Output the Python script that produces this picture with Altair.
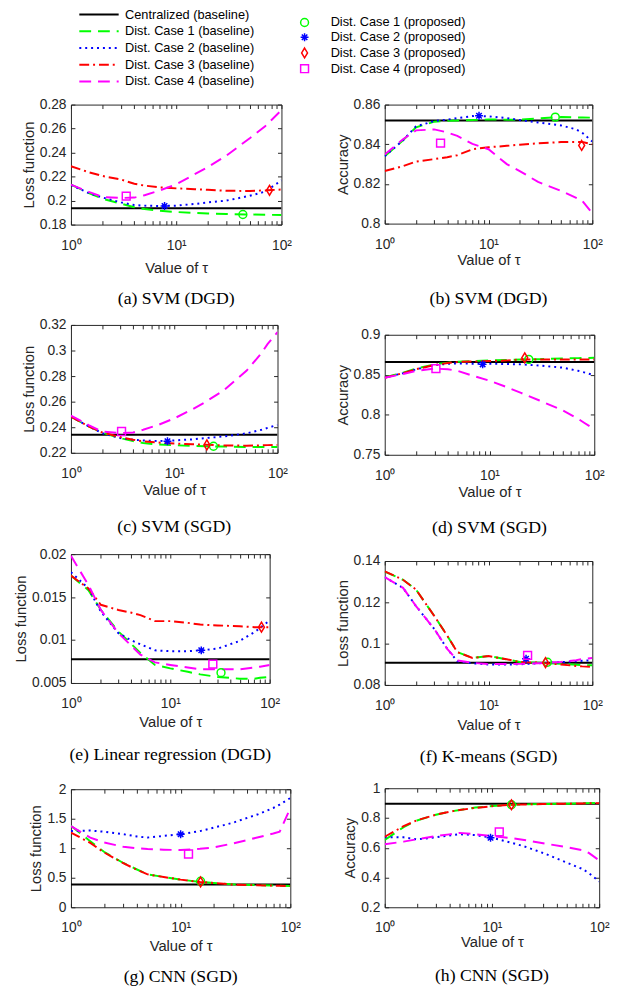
import altair as alt
import pandas as pd

# ---------------- data ----------------
X = [1, 1.5, 2, 3, 4, 5, 7, 10, 15, 20, 30, 50, 70, 80, 100]
SERIES = ["Centralized (baseline)", "Dist. Case 1 (baseline)", "Dist. Case 2 (baseline)",
          "Dist. Case 3 (baseline)", "Dist. Case 4 (baseline)"]
PROPOSED = ["Dist. Case 1 (proposed)", "Dist. Case 2 (proposed)",
            "Dist. Case 3 (proposed)", "Dist. Case 4 (proposed)"]
XTICKS = [1, 2, 3, 4, 5, 6, 7, 8, 9, 10, 20, 30, 40, 50, 60, 70, 80, 90, 100]

# (a) SVM (DGD) loss
A_CENT = 0.1936
A_C1 = [0.2133, 0.206, 0.2015, 0.1975, 0.1945, 0.193, 0.1915, 0.1905, 0.1898, 0.1893, 0.1888, 0.1884, 0.1882, 0.1881, 0.188]
A_C2 = [0.213, 0.206, 0.2025, 0.1985, 0.1963, 0.1958, 0.1955, 0.1958, 0.1972, 0.1985, 0.2, 0.204, 0.2075, 0.211, 0.2168]
A_C3 = [0.2286, 0.2235, 0.2205, 0.2175, 0.214, 0.2125, 0.211, 0.2102, 0.2095, 0.209, 0.2082, 0.208, 0.2085, 0.2088, 0.2092]
A_C4 = [0.2133, 0.207, 0.203, 0.2022, 0.2025, 0.2045, 0.2085, 0.2135, 0.222, 0.228, 0.2375, 0.252, 0.262, 0.267, 0.2754]
A_MX = [43, 7.75, 77, 3.35]
A_MY = [0.1884, 0.1955, 0.2086, 0.2037]

# (b) SVM (DGD) accuracy
B_CENT = 0.852
B_C1 = [0.834, 0.842, 0.8485, 0.8514, 0.8518, 0.852, 0.8522, 0.8525, 0.8524, 0.8524, 0.853, 0.8537, 0.8535, 0.8535, 0.8534]
B_C2 = [0.834, 0.842, 0.849, 0.8517, 0.8524, 0.8532, 0.8542, 0.8541, 0.8532, 0.8522, 0.851, 0.8495, 0.8475, 0.8458, 0.8414]
B_C3 = [0.8265, 0.829, 0.8313, 0.8325, 0.8335, 0.8345, 0.8375, 0.8385, 0.8392, 0.8398, 0.8405, 0.8411, 0.8412, 0.8411, 0.840]
B_C4 = [0.8348, 0.8425, 0.847, 0.8475, 0.846, 0.8442, 0.8402, 0.8375, 0.830, 0.8265, 0.821, 0.8165, 0.813, 0.8115, 0.8053]
B_MX = [44, 8.1, 79, 3.45]
B_MY = [0.8537, 0.8544, 0.8394, 0.8406]

# (c) SVM (SGD) loss
C_CENT = 0.2341
C_C1 = [0.2482, 0.2405, 0.2359, 0.2315, 0.2292, 0.2277, 0.2265, 0.2259, 0.2254, 0.2251, 0.2249, 0.2246, 0.2246, 0.2246, 0.2246]
C_C2 = [0.2482, 0.2405, 0.2354, 0.2315, 0.2302, 0.2297, 0.2292, 0.2297, 0.2305, 0.2315, 0.2328, 0.2352, 0.238, 0.2395, 0.2418]
C_C3 = [0.2482, 0.2405, 0.236, 0.2323, 0.2302, 0.229, 0.228, 0.2272, 0.2267, 0.2264, 0.2258, 0.2256, 0.2258, 0.226, 0.2262]
C_C4 = [0.249, 0.2415, 0.2367, 0.2354, 0.2359, 0.238, 0.2418, 0.2469, 0.254, 0.2597, 0.2687, 0.2841, 0.298, 0.305, 0.3144]
C_MX = [24, 8.6, 20.7, 3.09]
C_MY = [0.2251, 0.229, 0.2262, 0.2367]

# (d) SVM (SGD) accuracy
D_CENT = 0.8659
D_C1 = [0.8466, 0.8527, 0.8577, 0.863, 0.8652, 0.8663, 0.8672, 0.868, 0.8686, 0.869, 0.8695, 0.8704, 0.8708, 0.871, 0.8712]
D_C2 = [0.8466, 0.852, 0.8569, 0.8622, 0.8636, 0.8642, 0.8638, 0.8638, 0.8634, 0.863, 0.8615, 0.8589, 0.855, 0.853, 0.8495]
D_C3 = [0.8462, 0.8522, 0.857, 0.8622, 0.8648, 0.866, 0.8666, 0.8671, 0.868, 0.869, 0.8692, 0.8692, 0.8692, 0.8692, 0.8692]
D_C4 = [0.8462, 0.851, 0.8548, 0.8577, 0.8569, 0.8548, 0.8486, 0.8425, 0.834, 0.8273, 0.8178, 0.8055, 0.795, 0.79, 0.782]
D_MX = [23.7, 8.6, 21.7, 3.08]
D_MY = [0.8692, 0.863, 0.8712, 0.8577]

# (e) Linear regression (DGD) loss
E_CENT = 0.00776
E_C1 = [0.0175, 0.0158, 0.0135, 0.011, 0.0096, 0.0085, 0.0071, 0.0067, 0.0063, 0.006, 0.0057, 0.0055, 0.0055, 0.0056, 0.0057]
E_C2 = [0.0179, 0.016, 0.0133, 0.0108, 0.01, 0.0095, 0.0088, 0.0087, 0.0087, 0.0088, 0.009, 0.0099, 0.0109, 0.0114, 0.0123]
E_C3 = [0.0175, 0.016, 0.0141, 0.0135, 0.0132, 0.0129, 0.0122, 0.0122, 0.012, 0.0118, 0.0117, 0.0116, 0.0115, 0.0115, 0.0115]
E_C4 = [0.0198, 0.0164, 0.0135, 0.0108, 0.0094, 0.0083, 0.0074, 0.0071, 0.0068, 0.0066, 0.0066, 0.0066, 0.0068, 0.0069, 0.0071]
E_MX = [32.4, 20.5, 82.7, 26.8]
E_MY = [0.0062, 0.0088, 0.0115, 0.0072]

# (f) K-means (SGD) loss
F_CENT = 0.0907
F_C1 = [0.1349, 0.1309, 0.1262, 0.1134, 0.1039, 0.0959, 0.0931, 0.094, 0.0924, 0.0911, 0.0908, 0.0902, 0.0898, 0.0896, 0.0895]
F_C2 = [0.1322, 0.127, 0.1182, 0.1071, 0.0975, 0.0915, 0.0905, 0.0899, 0.0899, 0.09, 0.0905, 0.091, 0.0915, 0.0917, 0.092]
F_C3 = [0.135, 0.1309, 0.1262, 0.1134, 0.1039, 0.0959, 0.0931, 0.094, 0.0924, 0.0911, 0.0908, 0.0899, 0.0892, 0.089, 0.0888]
F_C4 = [0.1322, 0.127, 0.1182, 0.1071, 0.0975, 0.0919, 0.0907, 0.0901, 0.0901, 0.0902, 0.0905, 0.0911, 0.092, 0.0925, 0.093]
F_MX = [37, 23, 35.4, 23.8]
F_MY = [0.091, 0.0927, 0.0908, 0.0943]

# (g) CNN (SGD) loss
G_CENT = 0.384
G_C1 = [1.38, 1.12, 0.94, 0.75, 0.64, 0.557, 0.513, 0.468, 0.43, 0.412, 0.388, 0.375, 0.367, 0.365, 0.362]
G_C2 = [1.292, 1.3, 1.28, 1.237, 1.2, 1.181, 1.209, 1.237, 1.29, 1.348, 1.432, 1.571, 1.682, 1.74, 1.85]
G_C3 = [1.265, 1.09, 0.93, 0.746, 0.635, 0.557, 0.513, 0.468, 0.429, 0.41, 0.384, 0.373, 0.366, 0.363, 0.36]
G_C4 = [1.376, 1.181, 1.097, 1.025, 1.0, 0.986, 0.975, 0.969, 0.99, 1.014, 1.081, 1.181, 1.25, 1.28, 1.68]
G_MX = [15.2, 10, 15.2, 11.8]
G_MY = [0.44, 1.237, 0.429, 0.903]

# (h) CNN (SGD) accuracy
H_CENT = 0.8957
H_C1 = [0.652, 0.739, 0.783, 0.822, 0.842, 0.854, 0.87, 0.88, 0.889, 0.891, 0.894, 0.896, 0.899, 0.9, 0.902]
H_C2 = [0.67, 0.67, 0.656, 0.67, 0.683, 0.691, 0.685, 0.667, 0.635, 0.609, 0.565, 0.5, 0.457, 0.43, 0.374]
H_C3 = [0.674, 0.745, 0.785, 0.822, 0.842, 0.854, 0.868, 0.879, 0.889, 0.891, 0.894, 0.896, 0.898, 0.899, 0.9]
H_C4 = [0.624, 0.641, 0.657, 0.678, 0.69, 0.7, 0.691, 0.678, 0.665, 0.652, 0.63, 0.604, 0.583, 0.565, 0.515]
H_MX = [15.2, 9.7, 15.2, 11.7]
H_MY = [0.889, 0.667, 0.889, 0.707]

# ---------------- styles ----------------
LINE_COLORS = ["#000000", "#00ff00", "#0000ff", "#ff0000", "#ff00ff"]
DASHES = [[1, 0], [12, 7], [2, 4], [10, 4, 2, 4], [12, 7]]
MARK_COLORS = ["#00ff00", "#0000ff", "#ff0000", "#ff00ff"]
SHAPES = ["circle",
          "M0,-1L0,1M-1,0L1,0M-0.7,-0.7L0.7,0.7M-0.7,0.7L0.7,-0.7",
          "M0,-1.25L0.75,0L0,1.25L-0.75,0Z",
          "square"]
INK = "#262626"

line_legend = alt.Legend(
    title=None, orient="none", legendX=22, legendY=-98, direction="vertical",
    symbolType="M-4,0L4,0", symbolSize=100, symbolStrokeWidth=2, labelOffset=20,
    labelFont="Liberation Sans", labelFontSize=13, labelColor="black",
    rowPadding=3, padding=0, offset=0,
)
mark_legend = alt.Legend(
    title=None, orient="none", legendX=231, legendY=-90, direction="vertical",
    symbolSize=64, symbolStrokeWidth=1.5, labelOffset=20,
    labelFont="Liberation Sans", labelFontSize=13, labelColor="black",
    rowPadding=0, padding=0, offset=0,
)

XSCALE = alt.Scale(type="log", domain=[1, 100], nice=False)
XLABEL = ("datum.value == 1 ? '10\u2070' : datum.value == 10 ? '10\u00b9' : "
          "datum.value == 100 ? '10\u00b2' : ''")


def panel(cent, c1, c2, c3, c4, mx, my, ydom, yticks, ytitle, caption,
          w, h, xtp, cap_off, extra):
    rows = [{"tau": X[0], "val": cent, "series": SERIES[0]},
            {"tau": X[-1], "val": cent, "series": SERIES[0]}]
    for name, arr in zip(SERIES[1:], [c1, c2, c3, c4]):
        rows += [{"tau": t, "val": v, "series": name} for t, v in zip(X, arr)]
    ldf = pd.DataFrame(rows)
    pdf = pd.DataFrame({"tau": mx, "val": my, "case": PROPOSED})
    ysc = alt.Scale(domain=ydom, nice=False, zero=False)

    lines = alt.Chart(ldf).mark_line(strokeWidth=2, clip=True).encode(
        x=alt.X("tau:Q", scale=XSCALE, axis=alt.Axis(
            orient="bottom", values=XTICKS, labelExpr=XLABEL, title="Value of \u03c4",
            offset=-4, tickSize=4, labelPadding=14, titlePadding=xtp, labelFlush=False)),
        y=alt.Y("val:Q", scale=ysc, axis=alt.Axis(
            orient="left", values=yticks, format="~g", title=ytitle,
            offset=-4, tickSize=4, labelPadding=5, titlePadding=3)),
        color=alt.Color("series:N", scale=alt.Scale(domain=SERIES, range=LINE_COLORS),
                        legend=line_legend),
        strokeDash=alt.StrokeDash("series:N", scale=alt.Scale(domain=SERIES, range=DASHES),
                                  legend=line_legend),
    )
    pts = alt.Chart(pdf).mark_point(filled=False, strokeWidth=1.5, size=64, opacity=1).encode(
        x=alt.X("tau:Q", scale=XSCALE, axis=alt.Axis(
            orient="top", values=XTICKS, labels=False, title=None, offset=-4, tickSize=4)),
        y=alt.Y("val:Q", scale=ysc, axis=alt.Axis(
            orient="right", values=yticks, labels=False, title=None, offset=-4, tickSize=4)),
        stroke=alt.Stroke("case:N", scale=alt.Scale(domain=PROPOSED, range=MARK_COLORS),
                          legend=mark_legend),
        shape=alt.Shape("case:N", scale=alt.Scale(domain=PROPOSED, range=SHAPES),
                        legend=mark_legend),
    )
    if extra > 0:
        t = alt.TitleParams(caption, orient="bottom", anchor="middle", frame="group",
                            offset=cap_off, subtitle=" ", subtitleFontSize=extra,
                            subtitlePadding=0)
    else:
        t = alt.TitleParams(caption, orient="bottom", anchor="middle", frame="group",
                            offset=cap_off)
    return alt.layer(lines, pts).resolve_axis(x="independent", y="independent").properties(
        width=w, height=h, title=t)


pa = panel(A_CENT, A_C1, A_C2, A_C3, A_C4, A_MX, A_MY, [0.18, 0.28],
           [0.18, 0.2, 0.22, 0.24, 0.26, 0.28], "Loss function", "(a) SVM (DGD)",
           214, 122, 8.5, 15, 0)
pc = panel(C_CENT, C_C1, C_C2, C_C3, C_C4, C_MX, C_MY, [0.22, 0.32],
           [0.22, 0.24, 0.26, 0.28, 0.3, 0.32], "Loss function", "(c) SVM (SGD)",
           210, 130, 2.5, 21, 1)
pe = panel(E_CENT, E_C1, E_C2, E_C3, E_C4, E_MX, E_MY, [0.005, 0.02],
           [0.005, 0.01, 0.015, 0.02], "Loss function", "(e) Linear regression (DGD)",
           202, 131, 4.5, 17, 8)
pg = panel(G_CENT, G_C1, G_C2, G_C3, G_C4, G_MX, G_MY, [0, 2],
           [0, 0.5, 1, 1.5, 2], "Loss function", "(g) CNN (SGD)",
           223, 120, 4, 15, 0)
pb = panel(B_CENT, B_C1, B_C2, B_C3, B_C4, B_MX, B_MY, [0.8, 0.86],
           [0.8, 0.82, 0.84, 0.86], "Accuracy", "(b) SVM (DGD)",
           211, 121, 1.5, 23, 8)
pd_ = panel(D_CENT, D_C1, D_C2, D_C3, D_C4, D_MX, D_MY, [0.75, 0.9],
            [0.75, 0.8, 0.85, 0.9], "Accuracy", "(d) SVM (SGD)",
            213, 122, 2.5, 20, 5)
pf = panel(F_CENT, F_C1, F_C2, F_C3, F_C4, F_MX, F_MY, [0.08, 0.14],
           [0.08, 0.1, 0.12, 0.14], "Loss function", "(f) K-means (SGD)",
           211, 126, 5.5, 16, 3)
ph = panel(H_CENT, H_C1, H_C2, H_C3, H_C4, H_MX, H_MY, [0.2, 1],
           [0.2, 0.4, 0.6, 0.8, 1], "Accuracy", "(h) CNN (SGD)",
           218, 121, 0, 18, 0)

left = alt.vconcat(pa, pc, pe, pg, spacing=9)
right = alt.vconcat(pb, pd_, pf, ph, spacing=11)

chart = alt.hconcat(left, right, spacing=34).properties(
    padding={"left": 5, "top": -8, "right": 0, "bottom": 0}
).configure_view(
    stroke=INK, strokeWidth=1
).configure_axis(
    labelFont="Liberation Sans", titleFont="Liberation Sans", labelFontSize=14,
    titleFontSize=15, labelColor=INK, titleColor=INK, tickColor=INK, tickWidth=1,
    domain=False, grid=False, titleFontWeight="normal"
).configure_title(
    font="Liberation Serif", fontSize=18, fontWeight="normal", color="black"
)

chart.save("out.html", embed_options={"renderer": "svg", "actions": False})
